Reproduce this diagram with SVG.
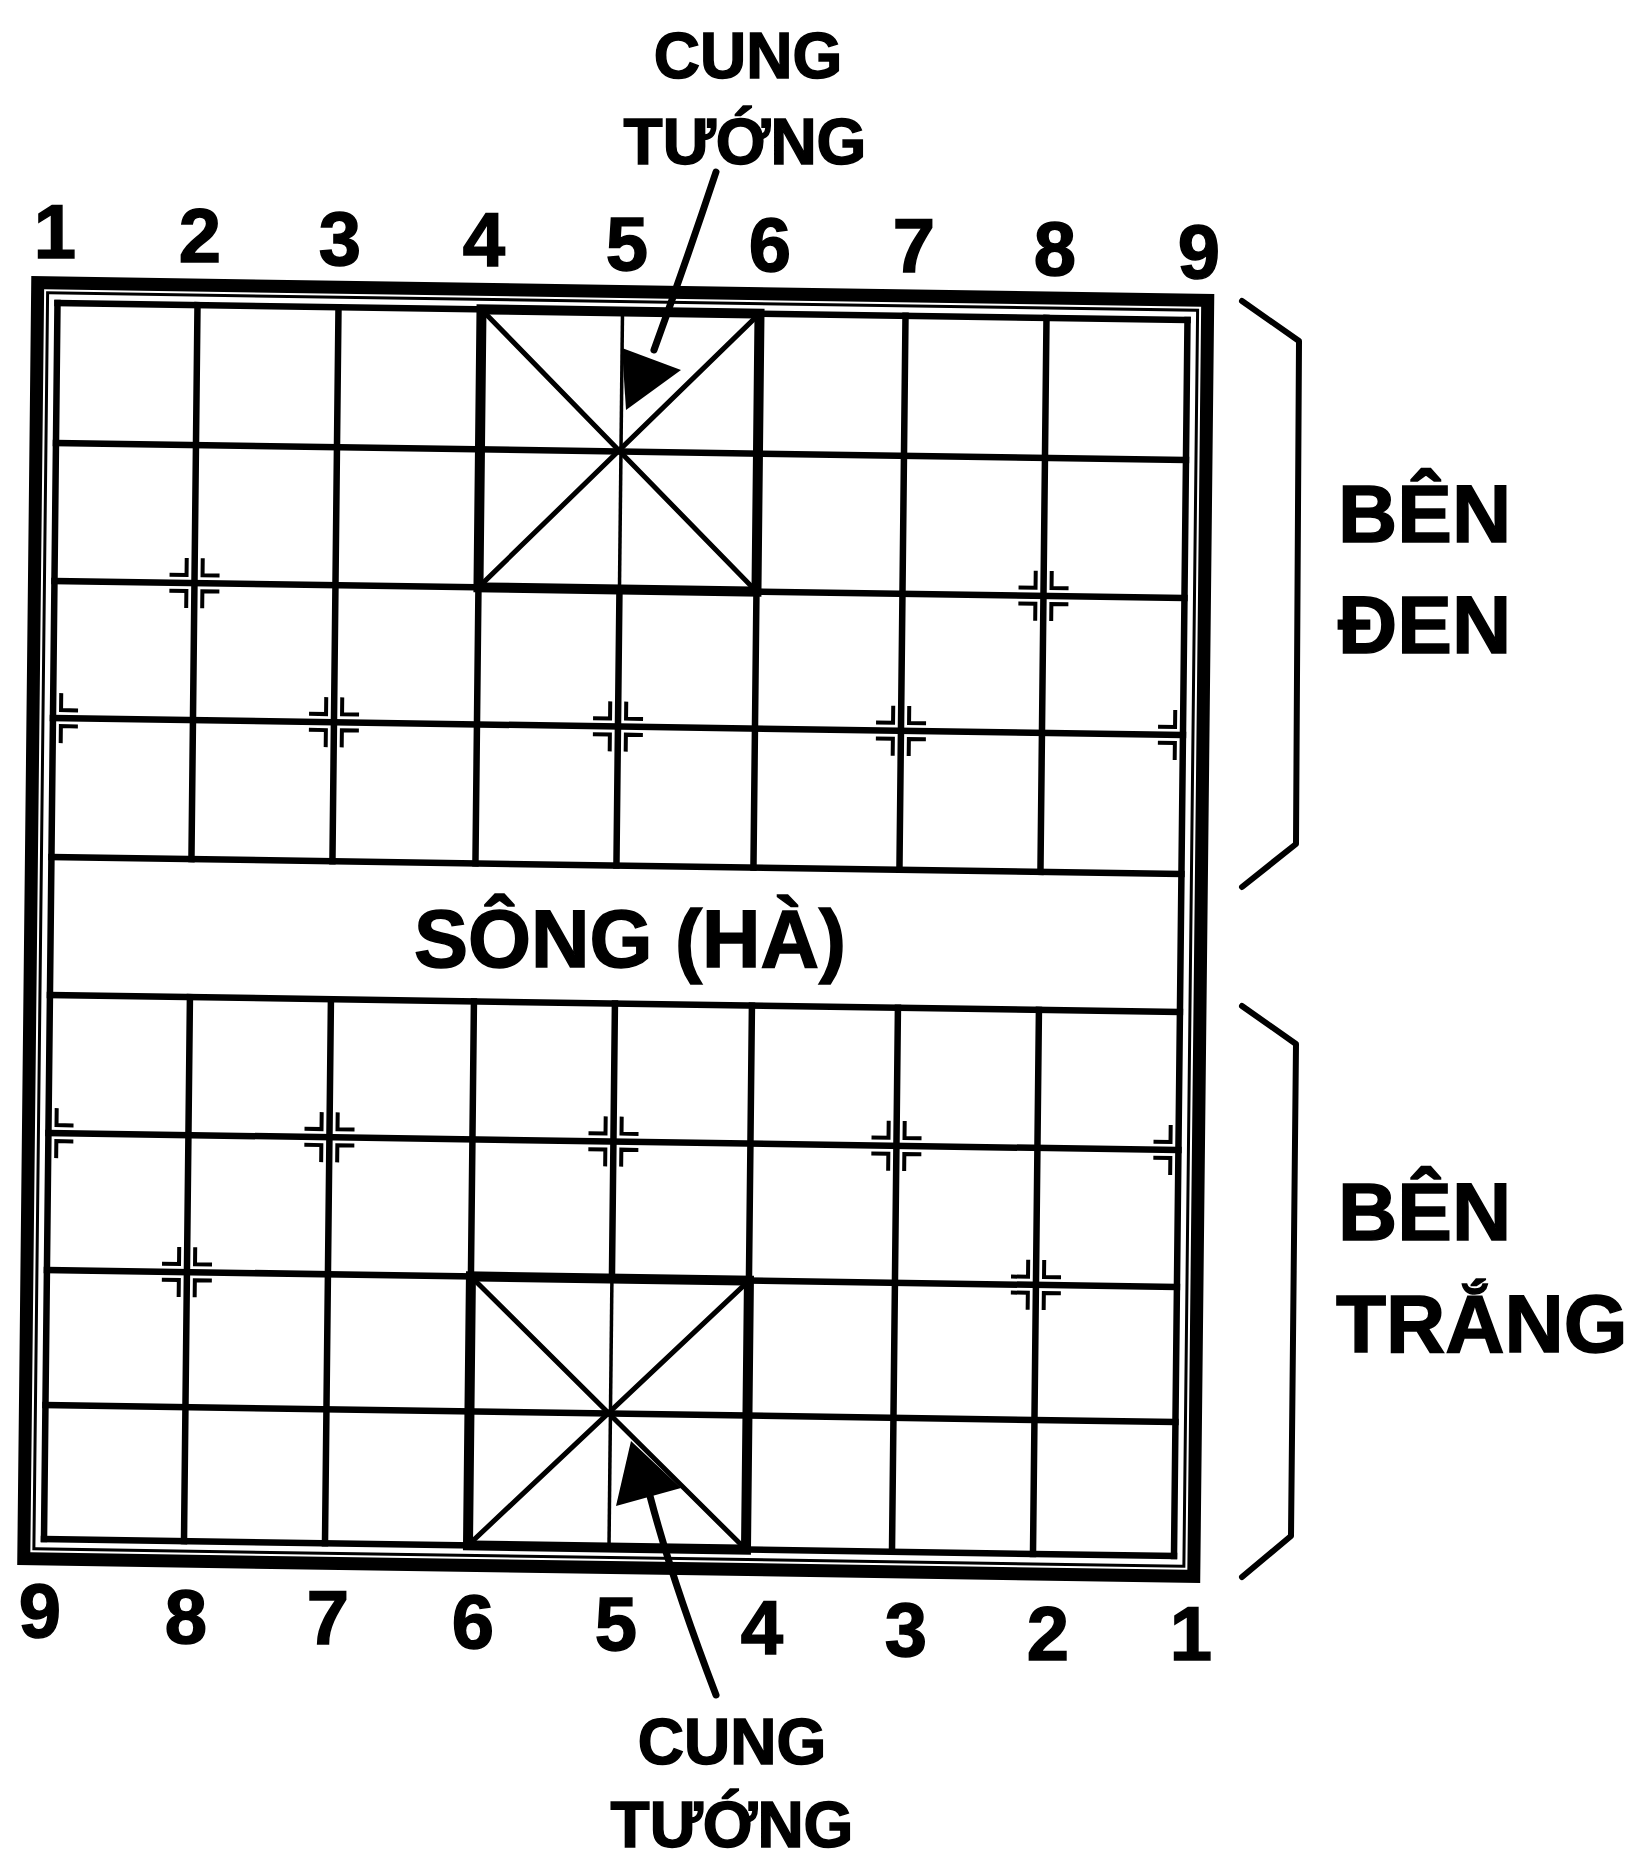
<svg xmlns="http://www.w3.org/2000/svg" xmlns:xlink="http://www.w3.org/1999/xlink" width="1631" height="1859" viewBox="0 0 1631 1859">
<style>
.ln{stroke:#000;fill:none;stroke-width:6.5;stroke-linecap:square}
.thin{stroke:#000;fill:none;stroke-width:3}
.cen{stroke:#000;fill:none;stroke-width:3.5}
.pal{stroke:#000;fill:none;stroke-width:10;stroke-linejoin:miter}
.diag{stroke:#000;fill:none;stroke-width:5}
.mk{stroke:#000;fill:none;stroke-width:4}
.br{stroke:#000;fill:none;stroke-width:6;stroke-linejoin:round;stroke-linecap:round}
.ar{stroke:#000;fill:none;stroke-width:7;stroke-linecap:round}
.t{font-family:"Liberation Sans",Arial,sans-serif;font-weight:bold;fill:#000;stroke:#000;stroke-width:1.5}
.num{font-size:76px;text-anchor:middle}
.cg{font-size:64px;text-anchor:middle}
.side{font-size:82px}
</style>
<defs>
<path id="mL" d="M-25 -8H-8V-25M-25 8H-8V25"/>
<path id="mR" d="M25 -8H8V-25M25 8H8V25"/>
</defs>
<rect width="1631" height="1859" fill="#fff"/>
<g id="board" transform="matrix(1 0.01509 -0.01093 1 57.5 303)">
<rect x="-20" y="-20" width="1170" height="1276" fill="none" stroke="#000" stroke-width="13"/>
<rect x="-10" y="-10" width="1150" height="1256" class="thin"/>
<path class="ln" d="M0 0H1130M0 140H1130M0 278H1130M0 415H1130M0 554H1130M0 692H1130M0 830H1130M0 967H1130M0 1102H1130M0 1236H1130"/>
<path class="ln" d="M0 0V1236M1130 0V1236M140 0V554M140 692V1236M281 0V554M281 692V1236M424 0V554M424 692V1236M565 278V554M565 692V967M702 0V554M702 692V1236M848 0V554M848 692V1236M989 0V554M989 692V1236"/>
<g id="palace-top">
<path class="cen" d="M565 0V278"/>
<path class="diag" d="M424 0L702 278M702 0L424 278"/>
<rect x="424" y="0" width="278" height="278" class="pal"/>
</g>
<g id="palace-bottom">
<path class="cen" d="M565 967V1236"/>
<path class="diag" d="M424 967L702 1236M702 967L424 1236"/>
<rect x="424" y="967" width="278" height="269" class="pal"/>
</g>
<g id="marks" class="mk">
<use xlink:href="#mL" x="140" y="278"/><use xlink:href="#mR" x="140" y="278"/>
<use xlink:href="#mL" x="989" y="278"/><use xlink:href="#mR" x="989" y="278"/>
<use xlink:href="#mR" x="0" y="415"/>
<use xlink:href="#mL" x="281" y="415"/><use xlink:href="#mR" x="281" y="415"/>
<use xlink:href="#mL" x="565" y="415"/><use xlink:href="#mR" x="565" y="415"/>
<use xlink:href="#mL" x="848" y="415"/><use xlink:href="#mR" x="848" y="415"/>
<use xlink:href="#mL" x="1130" y="415"/>
<use xlink:href="#mR" x="0" y="830"/>
<use xlink:href="#mL" x="281" y="830"/><use xlink:href="#mR" x="281" y="830"/>
<use xlink:href="#mL" x="565" y="830"/><use xlink:href="#mR" x="565" y="830"/>
<use xlink:href="#mL" x="848" y="830"/><use xlink:href="#mR" x="848" y="830"/>
<use xlink:href="#mL" x="1130" y="830"/>
<use xlink:href="#mL" x="140" y="967"/><use xlink:href="#mR" x="140" y="967"/>
<use xlink:href="#mL" x="989" y="967"/><use xlink:href="#mR" x="989" y="967"/>
</g>
</g>
<g id="river-label"><text class="t" x="630" y="967" font-size="81" text-anchor="middle">SÔNG (HÀ)</text></g>
<g id="top-numbers" class="t num">
<text x="55" y="258">1</text><text x="200" y="262">2</text><text x="340" y="265">3</text>
<text x="484" y="266">4</text><text x="627" y="270">5</text><text x="770" y="271">6</text>
<text x="914" y="272">7</text><text x="1055" y="275">8</text><text x="1199" y="278">9</text>
</g>
<g id="bottom-numbers" class="t num">
<text x="40" y="1637">9</text><text x="186" y="1643">8</text><text x="328" y="1644">7</text>
<text x="473" y="1648">6</text><text x="616" y="1650">5</text><text x="762" y="1654">4</text>
<text x="906" y="1656">3</text><text x="1048" y="1660">2</text><text x="1191" y="1660">1</text>
</g>
<g id="label-top-palace" class="t cg">
<text x="748" y="78">CUNG</text><text x="745" y="164">TƯỚNG</text>
</g>
<g id="label-bottom-palace" class="t cg">
<text x="732" y="1764">CUNG</text><text x="732" y="1847">TƯỚNG</text>
</g>
<g id="label-black" class="t side">
<text x="1338" y="542">BÊN</text><text x="1338" y="653">ĐEN</text>
</g>
<g id="label-white" class="t side">
<text x="1338" y="1240">BÊN</text><text x="1336" y="1352">TRẮNG</text>
</g>
<g id="connectors">
<path class="br" d="M1242 301L1299 341L1296 844L1242 887"/>
<path class="br" d="M1242 1006L1296 1044L1291 1536L1242 1577"/>
<path class="ar" d="M716 172Q686 262 654 350"/>
<polygon points="622,348 681,370 626,410" fill="#000"/>
<path class="ar" d="M716 1695Q672 1580 650 1496"/>
<polygon points="616,1506 681,1488 631,1441" fill="#000"/>
</g>
</svg>
